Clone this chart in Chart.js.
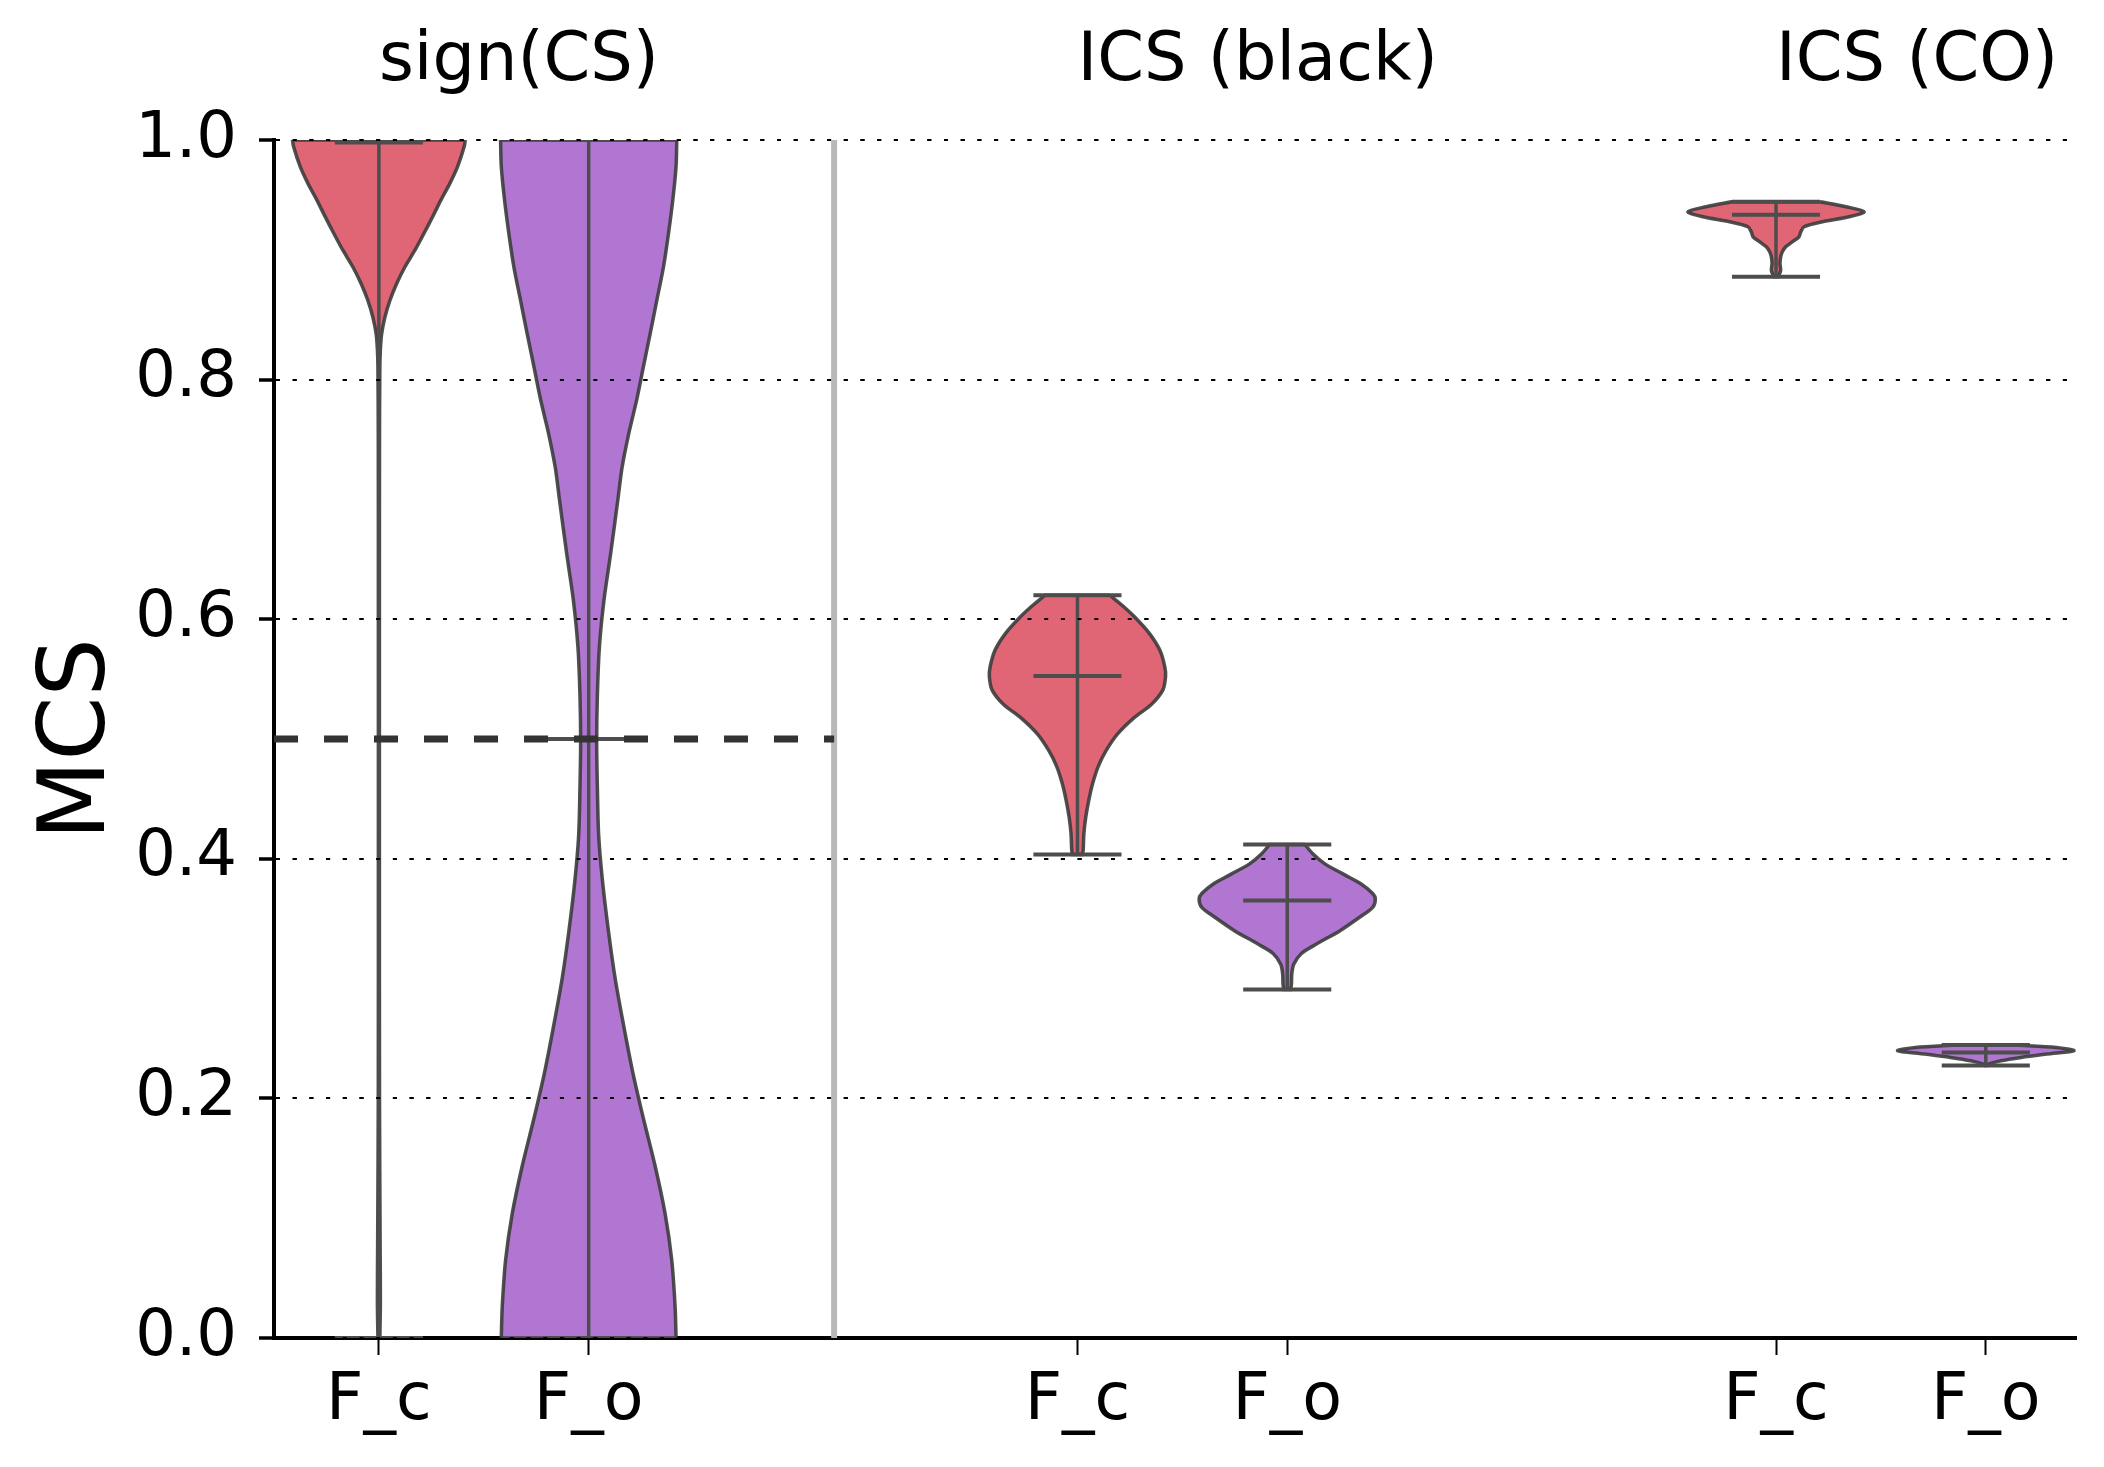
<!DOCTYPE html>
<html>
<head>
<meta charset="utf-8">
<script src="https://cdn.jsdelivr.net/npm/chart.js@4"></script>
<style>
  body { margin: 0; background: #fff; }
  #wrap { width: 2104px; height: 1467px; }
</style>
</head>
<body>
<div id="wrap"><canvas id="chart" width="2104" height="1467"></canvas></div>
<script>
// groups and x positions
const groupNames = ['sign(CS)', 'ICS (black)', 'ICS (CO)'];
const groupStart = [0, 3.33, 6.66];
const tickPos = [0, 1, 3.33, 4.33, 6.66, 7.66];
const tickLabels = ['F_c', 'F_o', 'F_c', 'F_o', 'F_c', 'F_o'];
const yTicks = [0, 0.2, 0.4, 0.6, 0.8, 1.0];
const separatorX = 2.17;
const chanceLevel = 0.5;

// violin profiles: MCS values (top -> bottom) and relative width
const fcSignY = [1.0, 0.995, 0.978, 0.964, 0.950, 0.936, 0.922, 0.908, 0.894, 0.880, 0.866, 0.852, 0.838, 0.825, 0.811, 0.75, 0.6, 0.4, 0.2, 0.08, 0.03, 0.0];
const fcSignW = [0.98, 0.97, 0.894, 0.807, 0.705, 0.61, 0.511, 0.409, 0.295, 0.201, 0.125, 0.068, 0.031, 0.017, 0.011, 0.007, 0.006, 0.006, 0.007, 0.014, 0.017, 0.011];
const foSignY = [1.0, 0.978, 0.95, 0.922, 0.894, 0.866, 0.838, 0.811, 0.783, 0.755, 0.727, 0.699, 0.655, 0.616, 0.577, 0.537, 0.498, 0.459, 0.419, 0.380, 0.340, 0.301, 0.262, 0.222, 0.183, 0.144, 0.104, 0.065, 0.026, 0.0];
const foSignW = [1.0, 0.992, 0.955, 0.906, 0.849, 0.773, 0.697, 0.622, 0.545, 0.455, 0.38, 0.33, 0.25, 0.174, 0.122, 0.099, 0.091, 0.099, 0.114, 0.159, 0.224, 0.299, 0.394, 0.5, 0.622, 0.753, 0.867, 0.943, 0.981, 0.992];
const fcBlackY = [0.620, 0.611, 0.602, 0.588, 0.574, 0.560, 0.552, 0.541, 0.529, 0.518, 0.504, 0.490, 0.477, 0.463, 0.449, 0.435, 0.421, 0.407, 0.4035];
const fcBlackW = [0.367, 0.516, 0.647, 0.818, 0.936, 0.992, 1.0, 0.97, 0.841, 0.647, 0.453, 0.323, 0.235, 0.173, 0.129, 0.095, 0.073, 0.065, 0.056];
const foBlackY = [0.412, 0.404, 0.396, 0.387, 0.379, 0.371, 0.3665, 0.3595, 0.351, 0.340, 0.329, 0.321, 0.312, 0.304, 0.2955, 0.291];
const foBlackW = [0.2, 0.293, 0.424, 0.642, 0.839, 0.970, 1.0, 0.970, 0.817, 0.599, 0.336, 0.161, 0.074, 0.052, 0.048, 0.040];
const fcCoY = [0.9485, 0.9443, 0.9401, 0.9359, 0.9318, 0.9276, 0.9234, 0.9192, 0.9150, 0.9108, 0.9067, 0.9025, 0.8970, 0.8914, 0.8872, 0.8858];
const fcCoW = [0.5, 0.792, 1.0, 0.83, 0.526, 0.318, 0.281, 0.261, 0.185, 0.11, 0.072, 0.053, 0.045, 0.053, 0.034, 0.023];
const foCoY = [0.2445, 0.2425, 0.2398, 0.2370, 0.2342, 0.2314, 0.2287, 0.2275];
const foCoW = [0.34, 0.8, 1.0, 0.69, 0.4, 0.17, 0.035, 0.01];

// whisker stats per violin
const mins = [0.0, 0.0, 0.4035, 0.291, 0.8858, 0.2275];
const maxs = [1.0, 1.0, 0.620, 0.412, 0.9485, 0.2445];
const means = [0.998, 0.5, 0.5525, 0.3651, 0.9376, 0.2384];

const profileY = [fcSignY, foSignY, fcBlackY, foBlackY, fcCoY, foCoY];
const profileW = [fcSignW, foSignW, fcBlackW, foBlackW, fcCoW, foCoW];

const RED = '#e06676';
const PURPLE = '#b176d2';
const fills = [RED, PURPLE, RED, PURPLE, RED, PURPLE];
const halfWidth = 0.42;
const capHalf = 0.21;
const FONT = 'DejaVu Sans';

// closed outline; corner points doubled so the curve keeps sharp corners
function violinPoints(pos, ys, ws) {
    const right = ys.map((y, i) => ({x: pos + ws[i] * halfWidth, y: y}));
    const left = ys.map((y, i) => ({x: pos - ws[i] * halfWidth, y: y})).reverse();
    const rEnd = right[right.length - 1];
    const lEnd = left[left.length - 1];
    return right.concat([rEnd, left[0]], left, [lEnd, right[0]]);
}

function segment(x1, y1, x2, y2, color, width, order, dash) {
    return {
        data: [{x: x1, y: y1}, {x: x2, y: y2}],
        showLine: true,
        borderColor: color,
        borderWidth: width,
        borderDash: dash || [],
        pointRadius: 0,
        fill: false,
        order: order
    };
}

const datasets = [];
tickPos.forEach((pos, i) => {
    datasets.push({
        data: violinPoints(pos, profileY[i], profileW[i]),
        showLine: true,
        fill: 'shape',
        backgroundColor: fills[i],
        borderColor: 'rgba(60, 60, 60, 0.9)',
        borderWidth: 3.5,
        tension: 0.3,
        pointRadius: 0,
        order: 3
    });
    const c = '#4d4d4d';
    datasets.push(segment(pos, mins[i], pos, maxs[i], c, 3.5, 1));
    datasets.push(segment(pos - capHalf, mins[i], pos + capHalf, mins[i], c, 4, 1));
    datasets.push(segment(pos - capHalf, maxs[i], pos + capHalf, maxs[i], c, 4, 1));
    datasets.push(segment(pos - capHalf, means[i], pos + capHalf, means[i], c, 4, 1));
});
datasets.push(segment(separatorX, 0, separatorX, 1, '#b8b8b8', 6, 2));
datasets.push(segment(-0.5, chanceLevel, separatorX, chanceLevel, '#333333', 7, 0, [24, 26]));

// grid on top of the violins, group titles above the plot
const overlay = {
    id: 'overlay',
    afterDatasetsDraw(chart) {
        chart.scales.y.drawGrid(chart.chartArea);
    },
    afterDraw(chart) {
        const ctx = chart.ctx;
        const x = chart.scales.x;
        ctx.save();
        ctx.font = '67px "' + FONT + '"';
        ctx.fillStyle = '#000';
        ctx.textAlign = 'left';
        ctx.textBaseline = 'alphabetic';
        groupNames.forEach((name, i) => {
            ctx.fillText(name, x.getPixelForValue(groupStart[i]), 80);
        });
        ctx.restore();
    }
};

new Chart(document.getElementById('chart').getContext('2d'), {
    type: 'scatter',
    data: { datasets: datasets },
    plugins: [overlay],
    options: {
        responsive: false,
        animation: false,
        layout: { padding: { top: 140, right: 28, left: 0, bottom: 0 } },
        plugins: { legend: { display: false }, tooltip: { enabled: false } },
        scales: {
            x: {
                type: 'linear',
                min: -0.5,
                max: 8.09,
                afterBuildTicks(scale) {
                    scale.ticks = tickPos.map(v => ({value: v}));
                },
                afterFit(scale) { scale.height = 129; },
                ticks: {
                    autoSkip: false,
                    maxRotation: 0,
                    padding: 8,
                    color: '#000',
                    font: { family: FONT, size: 65 },
                    callback: (v, i) => tickLabels[i]
                },
                grid: {
                    drawOnChartArea: false,
                    drawTicks: true,
                    tickLength: 17,
                    tickColor: '#000',
                    tickWidth: 2
                },
                border: { color: '#000', width: 4 }
            },
            y: {
                type: 'linear',
                min: 0,
                max: 1,
                afterBuildTicks(scale) {
                    scale.ticks = yTicks.map(v => ({value: v}));
                },
                afterFit(scale) { scale.width = 274; },
                ticks: {
                    padding: 22,
                    color: '#000',
                    font: { family: FONT, size: 64 },
                    callback: v => v.toFixed(1)
                },
                grid: {
                    color: '#000',
                    lineWidth: 2,
                    drawTicks: true,
                    tickLength: 15,
                    tickColor: '#000',
                    tickWidth: 3,
                    tickBorderDash: []
                },
                border: { color: '#000', width: 4, dash: [4, 12.7] },
                title: {
                    display: true,
                    text: 'MCS',
                    color: '#000',
                    font: { family: FONT, size: 92 },
                    padding: { top: 25, bottom: 0 }
                }
            }
        }
    }
});
</script>
</body>
</html>
